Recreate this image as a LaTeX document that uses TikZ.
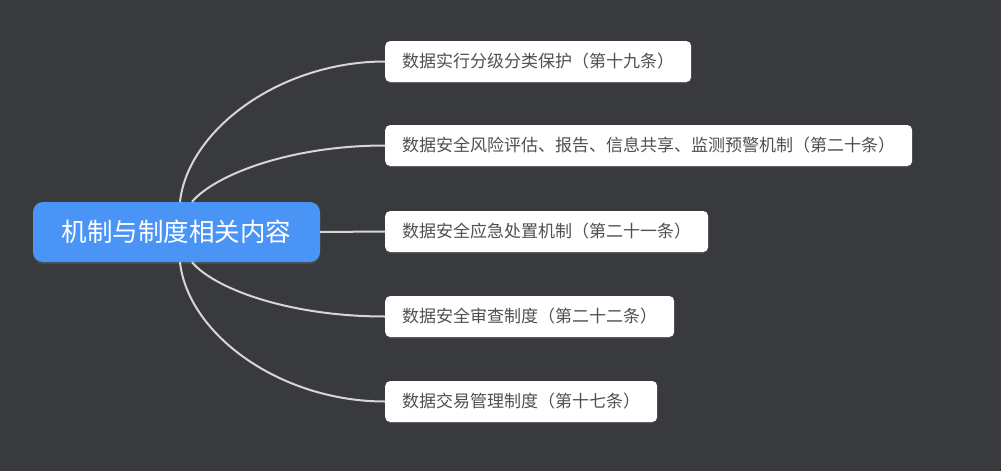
\documentclass[tikz,border=0pt]{standalone}
\usepackage{fontspec}
\newfontfamily\cjk{Noto Sans CJK SC}
\usepackage{tikz}
\usetikzlibrary{positioning,shadows}
\definecolor{bgdark}{HTML}{383A3E}
\definecolor{rootblue}{HTML}{4A94F6}
\definecolor{linegray}{HTML}{D6D6D6}
\definecolor{textgray}{HTML}{505050}
\tikzset{
  rootbox/.style={fill=rootblue, rounded corners=10pt, text=white,
    font=\cjk\fontsize{25.5}{30}\selectfont, minimum height=60pt,
    inner xsep=26pt, drop shadow={opacity=0.25, shadow xshift=0pt, shadow yshift=-2pt}},
  leafbox/.style={fill=white, rounded corners=5pt, text=textgray,
    font=\cjk\fontsize{17}{20}\selectfont, minimum height=41pt,
    inner xsep=17pt, anchor=west,
    drop shadow={opacity=0.2, shadow xshift=0pt, shadow yshift=-1.5pt}},
  branch/.style={draw=linegray, line width=2pt}
}
\begin{document}
\begin{tikzpicture}[x=1pt,y=-1pt]
        \fill[bgdark] (0,0) rectangle (1001,471);
        \useasboundingbox (0,0) rectangle (1001,471);
        % central topic
        \node[rootbox, minimum width=287pt] (root) at (176.5,232) {机制与制度相关内容};
        % subtopics
        \node[leafbox] (law19) at (385,61.5) {数据实行分级分类保护（第十九条）};
        \node[leafbox] (law20) at (385,145.5) {数据安全风险评估、报告、信息共享、监测预警机制（第二十条）};
        \node[leafbox] (law21) at (385,231.5) {数据安全应急处置机制（第二十一条）};
        \node[leafbox] (law22) at (385,316.5) {数据安全审查制度（第二十二条）};
        \node[leafbox] (law17) at (385,401.5) {数据交易管理制度（第十七条）};
        % branches
        \draw[branch] ([xshift=3.5pt]root.north) .. controls +(8,-72) and +(-105,0) .. (law19.west);
        \draw[branch] ([xshift=15.5pt]root.north) .. controls +(23,-27) and +(-95,0) .. (law20.west);
        \draw[branch] (root.east) -- (law21.west);
        \draw[branch] ([xshift=15.5pt]root.south) .. controls +(23,27) and +(-95,0) .. (law22.west);
        \draw[branch] ([xshift=3.5pt]root.south) .. controls +(8,72) and +(-105,0) .. (law17.west);
    \end{tikzpicture}
\end{document}
